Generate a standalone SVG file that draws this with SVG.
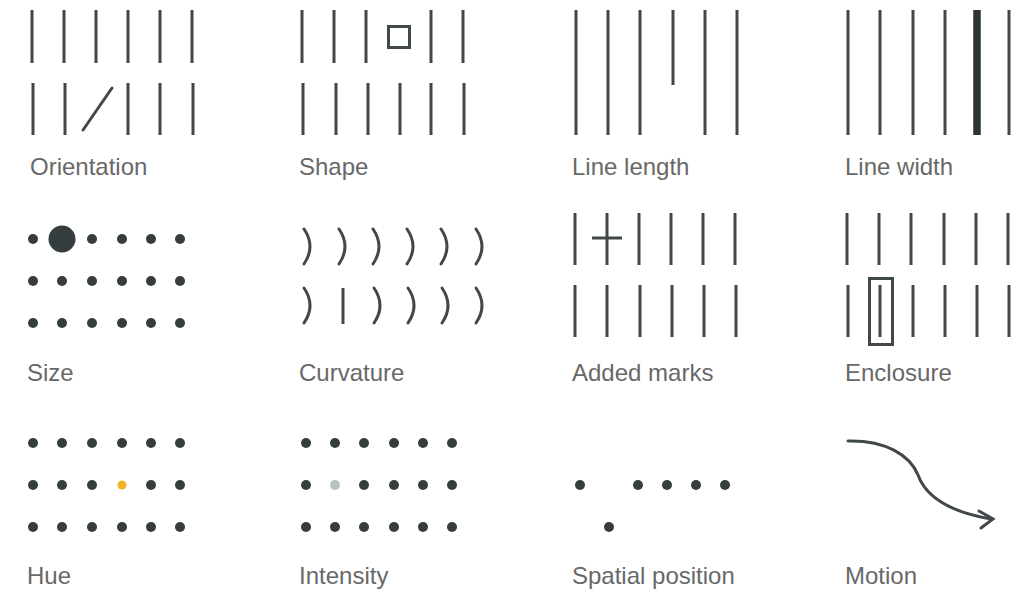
<svg xmlns="http://www.w3.org/2000/svg" width="1028" height="590" viewBox="0 0 1028 590">
<style>
.ln{stroke:#41484a;stroke-width:3;fill:none}
.cv{stroke:#41484a;stroke-width:3;fill:none;stroke-linecap:round}
.dt{fill:#363d3f}
.lb{font-family:"Liberation Sans",Arial,sans-serif;font-size:24px;fill:#686868}
</style>
<rect width="1028" height="590" fill="#ffffff"/>
<g id="orientation">
<path class="ln" d="M32,10V63M64,10V63M96,10V63M128,10V63M160,10V63M192,10V63"/>
<path class="ln" d="M33,83V135M65,83V135M128,83V135M160,83V135M193,83V135"/>
<path class="ln" d="M83,130L112,88" stroke-linecap="round"/>
<text class="lb" x="30" y="175">Orientation</text>
</g>
<g id="shape">
<path class="ln" d="M302,10V63M334,10V63M366,10V63M431,10V63M463,10V63"/>
<rect class="ln" x="388.5" y="26.5" width="21" height="21"/>
<path class="ln" d="M303,83V135M336,83V135M368,83V135M400,83V135M431,83V135M464,83V135"/>
<text class="lb" x="299" y="175">Shape</text>
</g>
<g id="line-length">
<path class="ln" d="M576,10V135M608,10V135M640,10V135M673,10V85M705,10V135M737,10V135"/>
<text class="lb" x="572" y="175">Line length</text>
</g>
<g id="line-width">
<path class="ln" d="M848,10V135M880,10V135M913,10V135M945,10V135M1009,10V135"/>
<path d="M977,10V135" stroke="#2d3435" stroke-width="7.5" fill="none"/>
<text class="lb" x="845" y="175">Line width</text>
</g>
<g id="size">
<circle class="dt" cx="33" cy="239" r="5"/>
<circle class="dt" cx="62" cy="239" r="13.5"/>
<circle class="dt" cx="92" cy="239" r="5"/>
<circle class="dt" cx="122" cy="239" r="5"/>
<circle class="dt" cx="151" cy="239" r="5"/>
<circle class="dt" cx="180" cy="239" r="5"/>
<circle class="dt" cx="33" cy="281" r="5"/>
<circle class="dt" cx="62" cy="281" r="5"/>
<circle class="dt" cx="92" cy="281" r="5"/>
<circle class="dt" cx="122" cy="281" r="5"/>
<circle class="dt" cx="151" cy="281" r="5"/>
<circle class="dt" cx="180" cy="281" r="5"/>
<circle class="dt" cx="33" cy="323" r="5"/>
<circle class="dt" cx="62" cy="323" r="5"/>
<circle class="dt" cx="92" cy="323" r="5"/>
<circle class="dt" cx="122" cy="323" r="5"/>
<circle class="dt" cx="151" cy="323" r="5"/>
<circle class="dt" cx="180" cy="323" r="5"/>
<text class="lb" x="27" y="381">Size</text>
</g>
<g id="curvature">
<path class="cv" d="M304,229Q316,246.5 304,264M339,229Q351,246.5 339,264M373,229Q385,246.5 373,264M407,229Q419,246.5 407,264M441,229Q453,246.5 441,264M476,229Q488,246.5 476,264"/>
<path class="cv" d="M304,288Q316,305.5 304,323M374,288Q386,305.5 374,323M408,288Q420,305.5 408,323M442,288Q454,305.5 442,323M476,288Q488,305.5 476,323"/>
<path class="ln" d="M343,288V324"/>
<text class="lb" x="299" y="381">Curvature</text>
</g>
<g id="added-marks">
<path class="ln" d="M575,213V265M607,213V265M639,213V265M671,213V265M703,213V265M735,213V265"/>
<path class="ln" d="M592,238H622"/>
<path class="ln" d="M575,285V337M607,285V337M640,285V337M672,285V337M704,285V337M736,285V337"/>
<text class="lb" x="572" y="381">Added marks</text>
</g>
<g id="enclosure">
<path class="ln" d="M847,213V265M879,213V265M911,213V265M944,213V265M976,213V265M1008,213V265"/>
<path class="ln" d="M848,285V337M880,285V337M913,285V337M945,285V337M977,285V337M1009,285V337"/>
<rect class="ln" x="869.5" y="278.5" width="23" height="66"/>
<text class="lb" x="845" y="381">Enclosure</text>
</g>
<g id="hue">
<circle class="dt" cx="33" cy="443" r="5"/>
<circle class="dt" cx="62" cy="443" r="5"/>
<circle class="dt" cx="92" cy="443" r="5"/>
<circle class="dt" cx="122" cy="443" r="5"/>
<circle class="dt" cx="151" cy="443" r="5"/>
<circle class="dt" cx="180" cy="443" r="5"/>
<circle class="dt" cx="33" cy="485" r="5"/>
<circle class="dt" cx="62" cy="485" r="5"/>
<circle class="dt" cx="92" cy="485" r="5"/>
<circle cx="122" cy="485" r="4.5" fill="#f0b323"/>
<circle class="dt" cx="151" cy="485" r="5"/>
<circle class="dt" cx="180" cy="485" r="5"/>
<circle class="dt" cx="33" cy="527" r="5"/>
<circle class="dt" cx="62" cy="527" r="5"/>
<circle class="dt" cx="92" cy="527" r="5"/>
<circle class="dt" cx="122" cy="527" r="5"/>
<circle class="dt" cx="151" cy="527" r="5"/>
<circle class="dt" cx="180" cy="527" r="5"/>
<text class="lb" x="27" y="584">Hue</text>
</g>
<g id="intensity">
<circle class="dt" cx="306" cy="443" r="5"/>
<circle class="dt" cx="335" cy="443" r="5"/>
<circle class="dt" cx="364" cy="443" r="5"/>
<circle class="dt" cx="394" cy="443" r="5"/>
<circle class="dt" cx="423" cy="443" r="5"/>
<circle class="dt" cx="452" cy="443" r="5"/>
<circle class="dt" cx="306" cy="485" r="5"/>
<circle cx="335" cy="485" r="5" fill="#b8c2c0"/>
<circle class="dt" cx="364" cy="485" r="5"/>
<circle class="dt" cx="394" cy="485" r="5"/>
<circle class="dt" cx="423" cy="485" r="5"/>
<circle class="dt" cx="452" cy="485" r="5"/>
<circle class="dt" cx="306" cy="527" r="5"/>
<circle class="dt" cx="335" cy="527" r="5"/>
<circle class="dt" cx="364" cy="527" r="5"/>
<circle class="dt" cx="394" cy="527" r="5"/>
<circle class="dt" cx="423" cy="527" r="5"/>
<circle class="dt" cx="452" cy="527" r="5"/>
<text class="lb" x="299" y="584">Intensity</text>
</g>
<g id="spatial-position">
<circle class="dt" cx="580" cy="485" r="5"/>
<circle class="dt" cx="638" cy="485" r="5"/>
<circle class="dt" cx="667" cy="485" r="5"/>
<circle class="dt" cx="696" cy="485" r="5"/>
<circle class="dt" cx="725" cy="485" r="5"/>
<circle class="dt" cx="609" cy="527" r="5"/>
<text class="lb" x="572" y="584">Spatial position</text>
</g>
<g id="motion">
<path class="cv" d="M848,441C885,440 910,455 918,475C926,497 950,512 991,519"/>
<path class="cv" d="M979,511L993,519L981,528"/>
<text class="lb" x="845" y="584">Motion</text>
</g>
</svg>
